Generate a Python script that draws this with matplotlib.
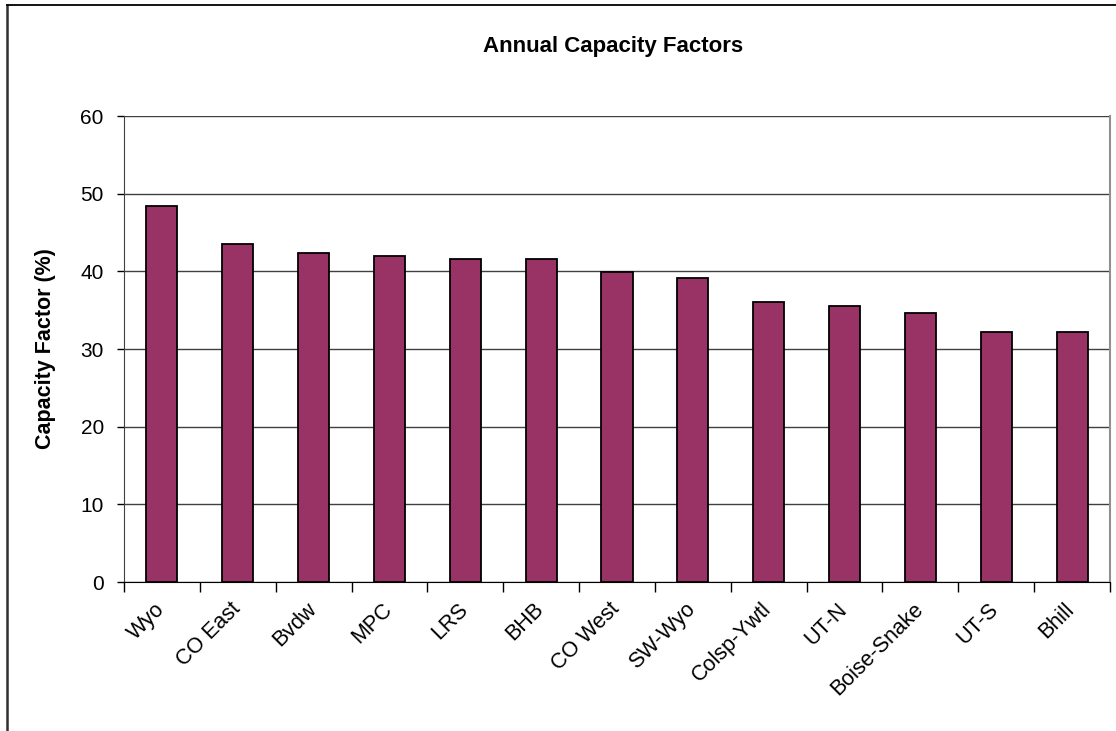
import matplotlib.pyplot as plt
import matplotlib.transforms as mtransforms
from matplotlib.lines import Line2D

plt.rcParams['font.family'] = ['Liberation Sans', 'DejaVu Sans']

regions = ["Wyo", "CO East", "Bvdw", "MPC", "LRS", "BHB", "CO West",
           "SW-Wyo", "Colsp-Ywtl", "UT-N", "Boise-Snake", "UT-S", "Bhill"]
capacity_factor = [48.4, 43.5, 42.4, 42.0, 41.6, 41.6, 39.9,
                   39.2, 36.0, 35.6, 34.7, 32.2, 32.2]
y_ticks = [0, 10, 20, 30, 40, 50, 60]

fig = plt.figure(figsize=(11.16, 7.31), dpi=100)
ax = fig.add_axes([0.1111, 0.2038, 0.8835, 0.6375])

x = range(len(regions))
ax.bar(x, capacity_factor, width=0.41, color="#993366",
       edgecolor="black", linewidth=1.3, zorder=3)

ax.set_ylim(0, 60)
ax.set_xlim(-0.5, len(regions) - 0.5)
ax.set_yticks(y_ticks)
ax.tick_params(axis='y', labelsize=15, direction='out', length=5, width=1,
               pad=9.5, colors='black')
ax.yaxis.grid(True, color="#404040", linewidth=1, zorder=0)
ax.set_axisbelow(True)

ax.set_xticks(list(x))
ax.set_xticklabels(regions, rotation=45, ha='right', rotation_mode='anchor',
                   fontsize=15.5)
ax.tick_params(axis='x', length=0, pad=12)
shift = mtransforms.ScaledTranslation(-8 / 100, 0, fig.dpi_scale_trans)
for lbl in ax.get_xticklabels():
    lbl.set_transform(lbl.get_transform() + shift)

# category separator ticks
ax.set_xticks([i + 0.5 for i in range(-1, len(regions))], minor=True)
ax.tick_params(axis='x', which='minor', length=7, direction='out', width=1)

ax.spines['top'].set_visible(False)
ax.spines['right'].set_color('#909090')
ax.spines['right'].set_linewidth(1.5)
ax.spines['left'].set_color('#404040')
ax.spines['bottom'].set_color('black')

ax.set_ylabel("Capacity Factor (%)", fontsize=15.5, fontweight='bold')
ax.yaxis.set_label_coords(-0.069, 0.5)
fig.text(0.549, 0.936, "Annual Capacity Factors", ha='center', va='center',
         fontsize=16, fontweight='bold')

# chart frame (top and left edges visible)
fig.add_artist(Line2D([7 / 1116, 7 / 1116], [0, 1 - 5 / 731], color='#303030',
                      linewidth=1.8, transform=fig.transFigure))
fig.add_artist(Line2D([7 / 1116, 1], [1 - 5 / 731, 1 - 5 / 731], color='black',
                      linewidth=1.3, transform=fig.transFigure))

fig.savefig("out.png", dpi=100)
